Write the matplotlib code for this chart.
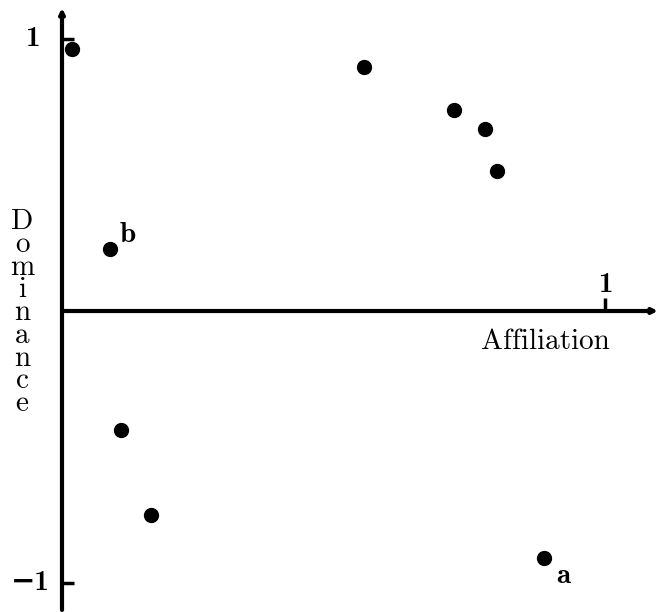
import matplotlib
matplotlib.use("Agg")
import matplotlib.pyplot as plt

plt.rcParams['mathtext.fontset'] = 'cm'
plt.rcParams['font.family'] = ['cmr10', 'DejaVu Serif']
plt.rcParams['axes.unicode_minus'] = False

# affiliation / dominance pairs
affiliation = [0.018, 0.088, 0.556, 0.722, 0.779, 0.801, 0.108, 0.164, 0.888]
dominance = [0.963, 0.228, 0.897, 0.738, 0.669, 0.515, -0.437, -0.750, -0.908]
point_labels = {'b': (0.088, 0.228), 'a': (0.888, -0.908)}

ux = 543.0  # pixels per unit, x
uy = 272.0  # pixels per unit, y

fig = plt.figure(figsize=(6.58, 6.12), dpi=100)
ax = fig.add_axes([0, 0, 1, 1])
ax.set_xlim(-62 / ux, (658 - 62) / ux)
ax.set_ylim(-(612 - 311) / uy, 311 / uy)
ax.axis('off')

bold = ['cmb10', 'DejaVu Sans']
fs = 21

# axes with arrow heads
ax.annotate('', xy=(596 / ux, 0), xytext=(0, 0),
            arrowprops=dict(arrowstyle='-|>', lw=3, color='black',
                            mutation_scale=7, shrinkA=0, shrinkB=0))
ax.annotate('', xy=(0, 303 / uy), xytext=(0, -299 / uy),
            arrowprops=dict(arrowstyle='-|>', lw=3, color='black',
                            mutation_scale=7, shrinkA=0, shrinkB=0))

# ticks
ax.plot([1, 1], [0, 13 / uy], color='black', lw=2.5, solid_capstyle='butt')
ax.plot([0, 12 / ux], [1, 1], color='black', lw=2.5, solid_capstyle='butt')
ax.plot([0, 12 / ux], [-1, -1], color='black', lw=2.5, solid_capstyle='butt')

ax.text(1, 26 / uy, '1', ha='center', va='center', fontsize=fs, family=bold)
ax.text(-30 / ux, 1.0, '1', ha='center', va='center', fontsize=fs, family=bold)
ax.text(-32 / ux, -1.0, '\u22121', ha='center', va='center', fontsize=fs,
        family=bold, fontweight='bold')

ax.text(483 / ux, -31 / uy, 'Affiliation', ha='center', va='center', fontsize=fs)

ax.text(-40 / ux, -2 / uy, '\n'.join('Dominance'), ha='center', va='center',
        multialignment='center', linespacing=0.82, fontsize=fs)

ax.scatter(affiliation, dominance, s=100, color='black', zorder=3)

ax.text(point_labels['b'][0] + 18 / ux, point_labels['b'][1] + 14 / uy, 'b',
        ha='center', va='center', fontsize=fs, family=bold)
ax.text(point_labels['a'][0] + 19 / ux, point_labels['a'][1] - 18 / uy, 'a',
        ha='center', va='center', fontsize=fs, family=bold)

fig.savefig('out.png', dpi=100)
